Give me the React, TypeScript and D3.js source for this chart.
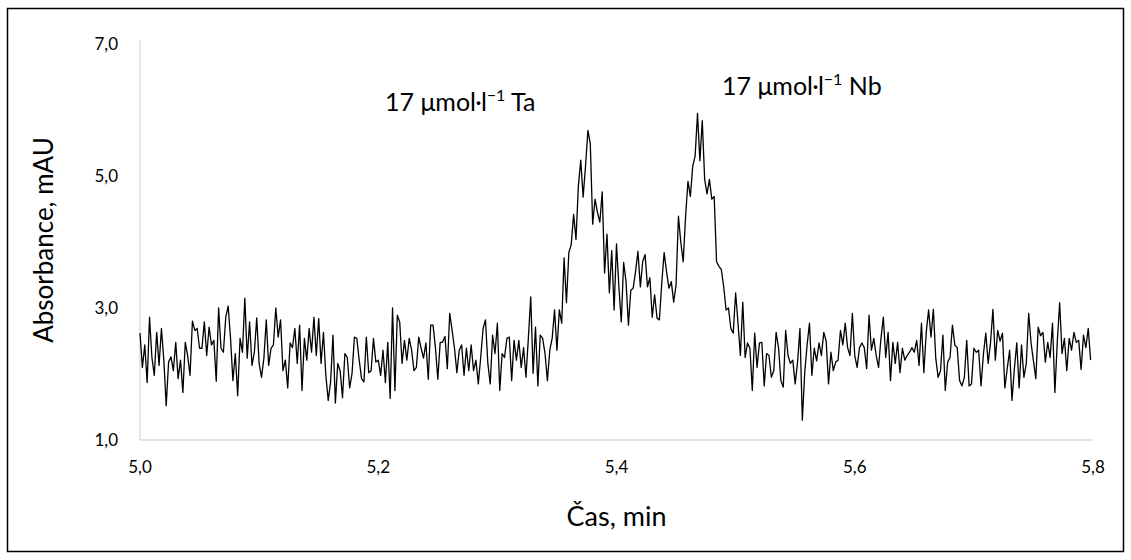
import React from "react";
import * as d3 from "d3";

// ---- data ----
const timeStart = 5.0; // min
const timeStep = 0.002; // min between samples

const baselineA = [
  2.62, 2.10, 2.44, 1.87, 2.86, 2.25, 1.98, 2.63, 2.13, 2.69,
  2.21, 1.52, 2.18, 2.26, 2.05, 2.48, 1.93, 2.21, 1.72, 2.48,
  2.28, 1.98, 2.80, 2.66, 2.69, 2.39, 2.39, 2.79, 2.28, 2.71,
  2.44, 2.51, 1.89, 3.00, 2.39, 2.33, 2.86, 3.03,
];
const baselineB = [
  2.54, 1.90, 2.31, 1.67, 2.54, 2.33, 3.15, 2.24, 2.79, 2.13,
  2.33, 2.85, 2.16, 1.95, 2.24, 2.82, 2.13, 2.39, 2.44, 3.00,
  2.56, 2.82, 2.05, 2.21, 1.79, 2.47, 2.40, 2.69, 2.16, 2.74,
];
const baselineC = [
  1.75, 2.54, 2.21, 2.69, 2.33, 2.86, 2.28, 2.84, 2.16, 2.63,
  1.98, 1.60, 1.88, 2.59, 1.56, 2.16, 2.05, 1.64, 2.31, 2.25,
  1.79, 2.01, 2.56, 2.54, 2.21, 1.93, 1.88, 2.56, 2.02, 2.05,
  2.54, 2.18, 2.21, 1.98, 2.36, 1.87, 2.48, 1.63, 3.00, 1.75,
  2.89, 2.79, 2.16, 2.51, 2.21, 2.54, 2.36, 2.05, 2.10, 2.56,
  2.39, 2.24, 2.47, 1.92, 2.74, 2.74, 2.40, 1.92, 2.48, 2.48,
  2.57, 2.08, 2.92, 2.66, 2.39, 2.02, 2.36,
];
const taPeak = [
  2.44, 1.98, 2.39, 2.05, 2.44, 2.05, 2.21, 1.85, 2.25, 2.69,
  2.82, 2.16, 1.85, 2.59, 2.31, 2.77, 1.75, 2.31, 2.25, 2.54,
  2.56, 1.90, 2.51, 2.21, 2.51, 2.10, 2.40, 1.95, 2.54, 3.17,
  2.01, 2.71, 1.82, 2.59, 2.54, 2.31, 1.90, 2.36, 2.54, 2.97,
  2.36, 2.97, 2.77, 3.76, 3.08, 3.84, 3.96, 4.42, 4.04, 4.85,
  5.24, 4.68, 5.15, 5.69, 5.49, 4.27, 4.65, 4.45, 4.30, 4.76,
  3.53, 4.12, 3.23, 3.87, 2.97, 3.97, 3.32,
];
const nbPeak = [
  2.79, 3.69, 3.40, 2.74, 3.27, 3.30, 3.55, 3.86, 3.32, 3.70,
  3.81, 3.32, 3.46, 2.86, 3.20, 2.85, 2.82, 3.38, 3.84, 3.55,
  3.30, 3.40, 3.09, 3.35, 4.39, 3.99, 3.70, 4.39, 4.92, 4.69,
  5.15, 5.30, 5.95, 5.23, 5.84, 4.95, 4.73, 4.95, 4.65, 4.69,
  3.70, 3.63, 3.58, 3.32, 2.97, 3.00, 2.69, 2.62, 3.23, 2.77,
  2.28, 3.09, 2.25, 2.47, 2.39, 1.75, 2.62, 2.10, 2.47, 2.48,
  1.82, 2.31, 2.28, 1.95, 2.05, 2.63, 2.40,
];
const baselineF = [
  1.90, 1.80, 2.66, 2.28, 2.16, 2.21, 1.85, 2.18, 2.69, 1.30,
  2.02, 2.44, 2.77, 1.98, 2.39, 2.20, 2.47, 2.28, 2.63, 2.50,
  1.85, 2.33, 2.05, 2.18, 2.21, 2.66, 2.44, 2.77, 2.40, 2.28,
  2.92, 2.28, 2.10, 2.40, 2.47, 2.40, 2.08, 2.89, 2.36, 2.54,
  2.28, 2.10, 2.54, 2.86, 2.25, 2.63, 1.90, 2.48, 2.16, 2.48,
  2.02, 2.39, 2.21, 2.28, 2.33, 2.40, 2.33, 2.51, 2.13, 2.77,
  2.02, 2.63, 2.97, 2.56, 2.98, 2.24, 1.95,
];
const baselineG = [
  2.05, 2.59, 1.75, 2.18, 2.25, 2.74, 2.44, 2.40, 1.90, 1.82,
  1.95, 2.51, 1.82, 1.85, 2.39, 2.33, 2.36, 1.82, 2.30, 2.62,
  2.16, 2.48, 2.98, 2.21, 2.66, 2.50, 2.62, 1.79, 2.08, 2.36,
  1.60, 2.08, 2.47, 1.79, 2.44, 1.95, 2.16, 2.92, 2.47, 2.20,
  1.93, 2.71, 2.58, 2.63, 2.18, 2.48, 2.25, 2.77, 1.72, 2.48,
  3.08, 2.31, 2.54, 2.05, 2.54, 2.36, 2.63, 2.48, 2.51, 2.07,
  2.59, 2.40, 2.69, 2.21,
];

const xTicks = [5.0, 5.2, 5.4, 5.6, 5.8];
const yTicks = [1.0, 3.0, 5.0, 7.0];
const xTitle = "Čas, min";
const yTitle = "Absorbance, mAU";
const peakLabels = [
  { conc: "17 μmol·l", exp: "−1", el: " Ta", t: 5.2057, v: 5.98 },
  { conc: "17 μmol·l", exp: "−1", el: " Nb", t: 5.4886, v: 6.22 },
];

const absorbance = [
  ...baselineA,
  ...baselineB,
  ...baselineC,
  ...taPeak,
  ...nbPeak,
  ...baselineF,
  ...baselineG,
];
const series = absorbance.map((v, i) => ({ t: timeStart + i * timeStep, v }));

const W = 1131;
const H = 560;
const FONT = "Lato, 'Open Sans', sans-serif";

const fmt = (n: number) => d3.format(".1f")(n).replace(".", ",");

export default function App() {
  const x = d3.scaleLinear().domain([5.0, 5.8]).range([140, 1093]);
  const y = d3.scaleLinear().domain([1, 7]).range([440, 44]);
  const line = d3
    .line<{ t: number; v: number }>()
    .x((d) => x(d.t))
    .y((d) => y(d.v));

  return (
    <div style={{ position: "absolute", left: 0, top: 0 }}>
      <svg width={W} height={H} style={{ display: "block", background: "#fff" }}>
        <rect x={7.5} y={8.5} width={1116} height={543} fill="#fff" stroke="#000" strokeWidth={1.5} />
        {/* axes */}
        <line x1={x(5.0)} x2={x(5.0)} y1={y(7) - 4} y2={y(1)} stroke="#d9d9d9" strokeWidth={1.3} />
        <line x1={x(5.0)} x2={x(5.8)} y1={y(1)} y2={y(1)} stroke="#d9d9d9" strokeWidth={1.3} />
        {/* y tick labels */}
        {yTicks.map((t) => (
          <text key={"y" + t} x={118} y={y(t)} dy="0.35em" textAnchor="end" fontFamily={FONT} fontSize={17} fill="#000">
            {fmt(t)}
          </text>
        ))}
        {/* x tick labels */}
        {xTicks.map((t) => (
          <text key={"x" + t} x={x(t)} y={473} textAnchor="middle" fontFamily={FONT} fontSize={17} fill="#000">
            {fmt(t)}
          </text>
        ))}
        {/* titles */}
        <text x={x(5.4)} y={526} textAnchor="middle" fontFamily={FONT} fontSize={27} fill="#000">
          {xTitle}
        </text>
        <text
          transform={`translate(53, ${y(4) - 2}) rotate(-90)`}
          textAnchor="middle"
          fontFamily={FONT}
          fontSize={26}
          fill="#000"
        >
          {yTitle}
        </text>
        {/* data line */}
        <path d={line(series) || ""} fill="none" stroke="#000" strokeWidth={1.3} strokeLinejoin="round" />
        {/* peak labels */}
        {peakLabels.map((p) => (
          <text key={p.el} x={x(p.t)} y={y(p.v)} fontFamily={FONT} fontSize={25} fill="#000">
            {p.conc}
            <tspan dy={-10} fontSize={16}>{p.exp}</tspan>
            <tspan dy={10}>{p.el}</tspan>
          </text>
        ))}
      </svg>
    </div>
  );
}
